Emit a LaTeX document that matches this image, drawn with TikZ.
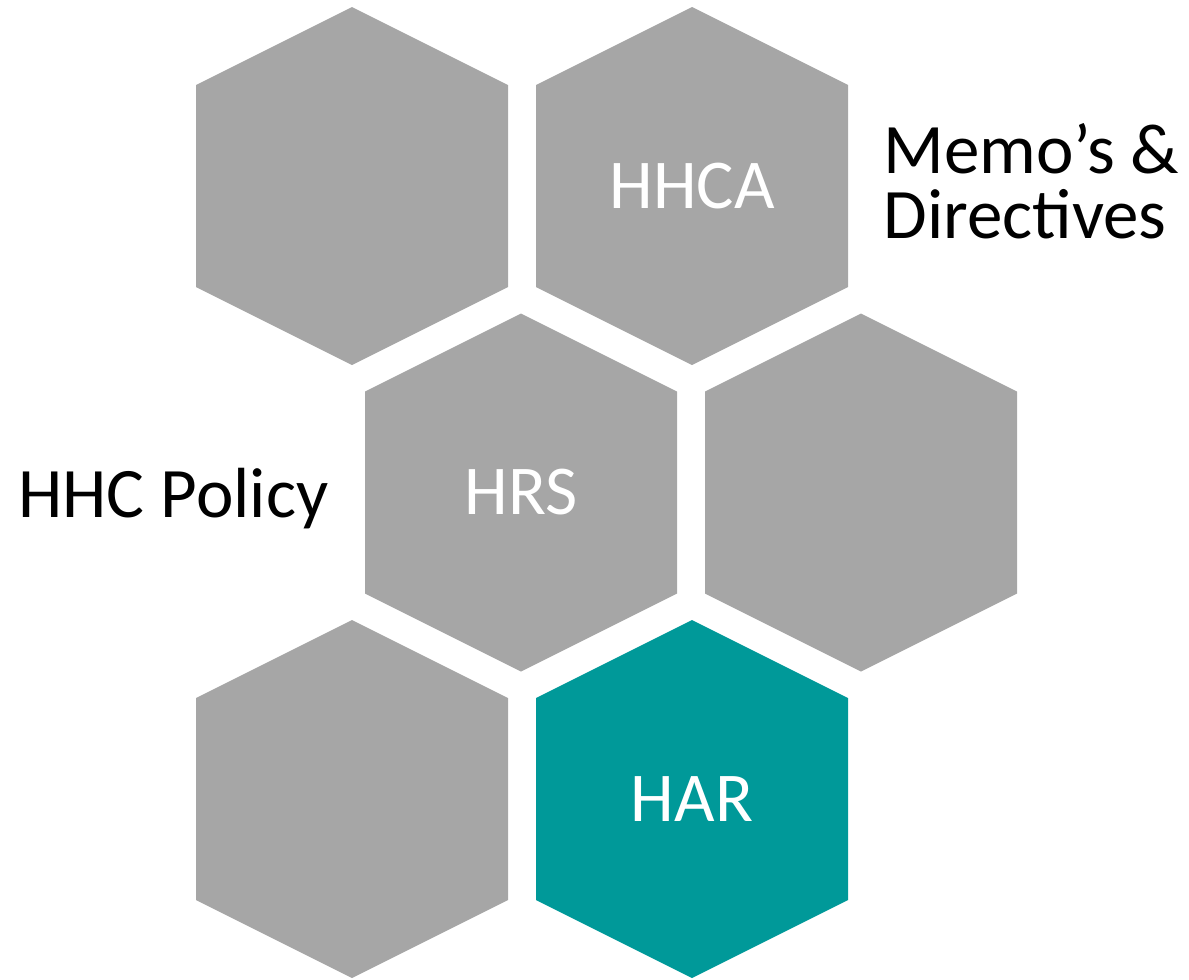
\documentclass[tikz,border=0pt]{standalone}
\usepackage{fontspec}
\setmainfont{Carlito}
\definecolor{hexgray}{HTML}{A6A6A6}
\definecolor{hexteal}{HTML}{009999}

\begin{document}
\begin{tikzpicture}[x=0.5pt, y=-0.5pt,
  hexagon/.pic={\path[pic actions] (0,-179) -- (156,-101) -- (156,101)
    -- (0,179) -- (-156,101) -- (-156,-101) -- cycle;},
  cell/.style={text=white, inner sep=0pt, font=\fontsize{35pt}{40pt}\selectfont},
  side/.style={text=black, inner sep=0pt, align=left,
    font=\fontsize{35.5pt}{32.5pt}\selectfont}]
\useasboundingbox (0,0) rectangle (1189,980);
% honeycomb
\pic[fill=hexgray] at (352,186) {hexagon};
\pic[fill=hexgray] at (692,186) {hexagon};
\pic[fill=hexgray] at (521,492.5) {hexagon};
\pic[fill=hexgray] at (861,492.5) {hexagon};
\pic[fill=hexgray] at (352,799) {hexagon};
\pic[fill=hexteal] at (692,799) {hexagon};
\node[cell] (hhca) at (692,186) {HHCA};
\node[cell] (hrs) at (521,492.5) {HRS};
\node[cell] (har) at (692,799) {HAR};
% labels
\node[side, anchor=base west] (memo) at (883,238) {Memo’s \&\\Directives};
\node[side, anchor=base west] (policy) at (18,517) {HHC Policy};
\end{tikzpicture}
\end{document}
